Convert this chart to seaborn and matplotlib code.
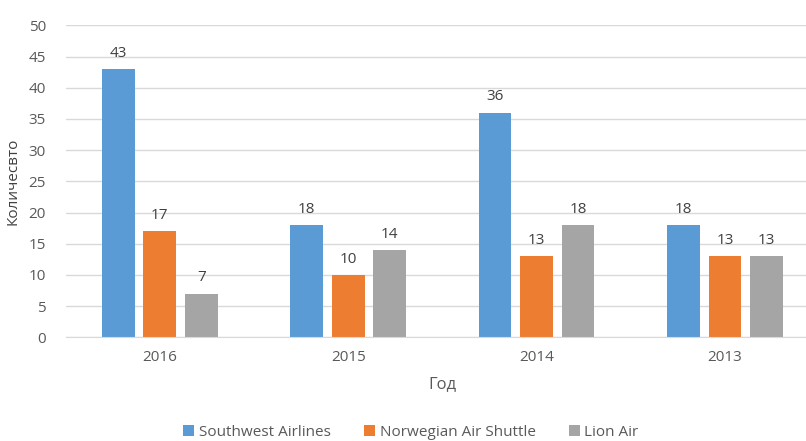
import pandas as pd
import matplotlib.pyplot as plt
import seaborn as sns

# Data
years = ["2016", "2015", "2014", "2013"]
airlines = ["Southwest Airlines", "Norwegian Air Shuttle", "Lion Air"]
southwest = [43, 18, 36, 18]
norwegian = [17, 10, 13, 13]
lion = [7, 14, 18, 13]
colors = ["#5B9BD5", "#ED7D31", "#A5A5A5"]

df = pd.DataFrame({
    "Год": years * 3,
    "Авиакомпания": [a for a in airlines for _ in years],
    "Количество": southwest + norwegian + lion,
})

sns.set_style("white")
plt.rcParams["font.family"] = ["Open Sans", "DejaVu Sans"]
text_color = "#595959"

fig = plt.figure(figsize=(8.06, 4.41), dpi=100)
ax = fig.add_axes([0.0813, 0.235, 0.935, 0.7076])

sns.barplot(data=df, x="Год", y="Количество", hue="Авиакомпания",
            palette=colors, width=0.66, gap=0.21, order=years,
            hue_order=airlines, ax=ax, saturation=1, linewidth=0)

for cont in ax.containers:
    ax.bar_label(cont, padding=6, fontsize=11, color="#404040")

ax.set_ylim(0, 50)
ax.set_yticks(range(0, 51, 5))
ax.set_xlim(-0.5, 3.5)
ax.yaxis.grid(True, color="#D9D9D9", linewidth=1)
ax.set_axisbelow(True)
for s in ["top", "right", "left"]:
    ax.spines[s].set_visible(False)
ax.spines["bottom"].set_color("#D9D9D9")
ax.tick_params(axis="both", length=0, labelsize=11, colors=text_color)
ax.tick_params(axis="x", pad=9)
ax.tick_params(axis="y", pad=14)

ax.set_xlabel("Год", fontsize=12, color=text_color, labelpad=8)
ax.set_ylabel("Количесвто", fontsize=11, color="#404040", labelpad=6)

handles, labels = ax.get_legend_handles_labels()
ax.get_legend().remove()
fig.legend(handles, labels, loc="center", bbox_to_anchor=(0.51, 0.02), ncol=3, frameon=False,
           fontsize=11, labelcolor=text_color, handlelength=0.7, handleheight=0.7,
           handletextpad=0.3, columnspacing=2.2)

fig.savefig("out.png", dpi=100)
